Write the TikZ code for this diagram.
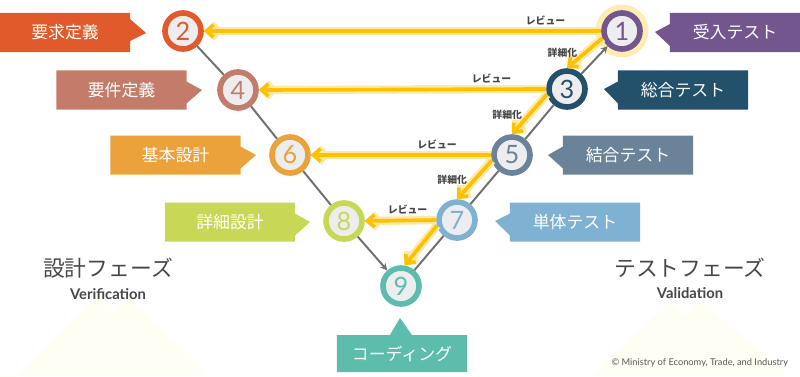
\documentclass[tikz,border=0pt]{standalone}
\usepackage{xcolor}
\usepackage{fontspec}
\setmainfont{Lato}
\newfontfamily\jpfont{Noto Sans CJK JP}
\usetikzlibrary{shapes.callouts, arrows.meta, positioning, calc}
\definecolor{reqred}{HTML}{E05A2C}
\definecolor{specbrown}{HTML}{C47C6A}
\definecolor{basicorange}{HTML}{EBA23A}
\definecolor{detaillime}{HTML}{C8D856}
\definecolor{codeteal}{HTML}{5DBDAD}
\definecolor{unitblue}{HTML}{7FB2D2}
\definecolor{integslate}{HTML}{6B8399}
\definecolor{sysnavy}{HTML}{23506B}
\definecolor{acceptpurple}{HTML}{74568F}
\definecolor{ringfill}{HTML}{EDEDF0}
\definecolor{reviewgold}{HTML}{FFC000}
\definecolor{flowgray}{HTML}{707070}
\definecolor{phasegray}{HTML}{474747}
\definecolor{hillcream}{HTML}{FEFEF5}

\begin{document}
\begin{tikzpicture}[x=0.025cm, y=-0.025cm,
    stepcircle/.style={circle, draw=#1, fill=ringfill, line width=4pt,
        minimum size=0.9cm, inner sep=0pt, text=#1, font=\fontsize{18}{18}\selectfont},
    banner/.style={rectangle callout, fill=#1, minimum width=3.25cm,
        minimum height=0.975cm, inner sep=0pt, text=white,
        callout pointer width=0.55cm, font=\jpfont\fontsize{12}{12}\selectfont},
    vline/.style={draw=flowgray, line width=1.4pt},
    review/.style={draw=reviewgold, line width=2.6pt,
        -{Straight Barb[length=5pt,width=9pt]},
        preaction={draw=reviewgold!35, line width=6pt}},
    smalllabel/.style={font=\jpfont\bfseries\fontsize{7}{7}\selectfont, text=phasegray, inner sep=1pt}]

    \useasboundingbox (0,0) rectangle (800,376);

    % faint hills
    \fill[hillcream] (0,392) -- (97,295) -- (113,311) -- (130,298) -- (210,376) -- (0,376) -- cycle;
    \fill[hillcream] (590,376) -- (670,302) -- (685,315) -- (700,300) -- (790,376) -- cycle;

    % steps
    \node[stepcircle=acceptpurple, preaction={draw=reviewgold!30, line width=12pt}] (c1) at (622,31) {1};
    \node[stepcircle=reqred] (c2) at (183,31) {2};
    \node[stepcircle=sysnavy] (c3) at (567,89) {3};
    \node[stepcircle=specbrown] (c4) at (238,90) {4};
    \node[stepcircle=integslate] (c5) at (512,155) {5};
    \node[stepcircle=basicorange] (c6) at (290,155) {6};
    \node[stepcircle=unitblue] (c7) at (457,220) {7};
    \node[stepcircle=detaillime] (c8) at (344,221) {8};
    \node[stepcircle=codeteal] (c9) at (401,286) {9};

    % banners
    \node[banner=reqred, callout absolute pointer={(146,33)}] (b2) at (65,32.5) {要求定義};
    \node[banner=specbrown, callout absolute pointer={(202,90)}] (b4) at (121.5,90) {要件定義};
    \node[banner=basicorange, callout absolute pointer={(256,155)}] (b6) at (175.5,155) {基本設計};
    \node[banner=detaillime, callout absolute pointer={(310,222)}] (b8) at (230,222) {詳細設計};
    \node[banner=acceptpurple, callout absolute pointer={(655,32)}] (b1) at (735,32.5) {受入テスト};
    \node[banner=sysnavy, callout absolute pointer={(604,89)}] (b3) at (683,90) {総合テスト};
    \node[banner=integslate, callout absolute pointer={(548,155)}] (b5) at (628,155) {結合テスト};
    \node[banner=unitblue, callout absolute pointer={(495,221)}] (b7) at (575,222) {単体テスト};
    \node[banner=codeteal, minimum height=0.925cm, callout absolute pointer={(400,318)}] (b9) at (402,353.5) {コーディング};

    % V line
    \draw[vline] (c2) -- (c4) -- (c6) -- (c8);
    \draw[vline, -{Stealth[length=5pt,width=5pt]}] (c8) -- (c9);
    \draw[vline] (c9) -- (c7) -- (c5) -- (c3);
    \draw[vline, -{Stealth[length=5pt,width=5pt]}] (c3) -- (c1);

    % review and refinement
    \draw[review] (c1.west) -- node[smalllabel, pos=0.14, above=2pt] {レビュー} (c2.east);
    \draw[review] (c3.west) -- node[smalllabel, pos=0.19, above=2pt] {レビュー} (c4.east);
    \draw[review] (c5.west) -- node[smalllabel, pos=0.3, above=2pt] {レビュー} (c6.east);
    \draw[review] (c7.west) -- node[smalllabel, pos=0.4, above=2pt] {レビュー} (c8.east);
    \draw[review] (c1.200) -- node[smalllabel, left=3pt] {詳細化} (c3.north);
    \draw[review] (c3.195) -- node[smalllabel, left=3pt] {詳細化} (c5.north);
    \draw[review] (c5.195) -- node[smalllabel, left=3pt] {詳細化} (c7.north);
    \draw[review] (c7.195) -- (c9.80);

    % phases
    \node[text=phasegray, font=\jpfont\fontsize{15.5}{15.5}\selectfont] (design) at (108,268) {設計フェーズ};
    \node[text=phasegray, font=\bfseries\fontsize{10.5}{10.5}\selectfont, below=0pt of design] (verif) {Verification};
    \node[text=phasegray, font=\jpfont\fontsize{15.5}{15.5}\selectfont] (test) at (690,268) {テストフェーズ};
    \node[text=phasegray, font=\bfseries\fontsize{10.5}{10.5}\selectfont, below=0pt of test] (valid) {Validation};

    \node[anchor=east, text=black!65, font=\fontsize{6.6}{6.6}\selectfont] (credit) at (793,363) {© Ministry of Economy, Trade, and Industry};
\end{tikzpicture}
\end{document}
